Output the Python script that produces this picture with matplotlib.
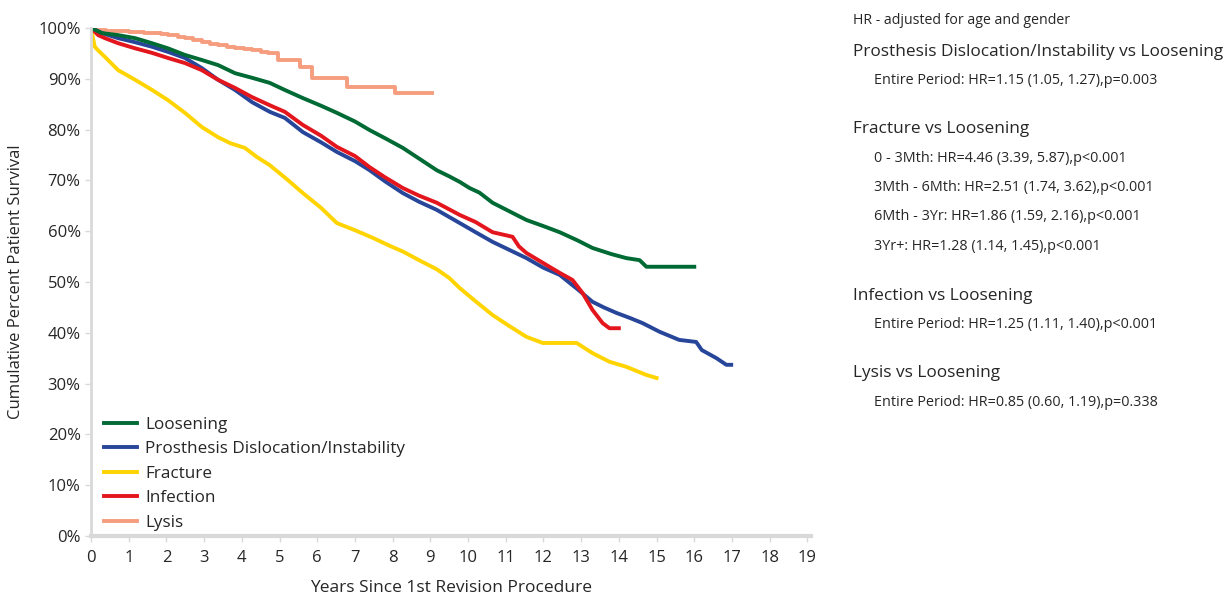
import matplotlib
matplotlib.use("Agg")
import matplotlib.pyplot as plt
from matplotlib.ticker import FuncFormatter

plt.rcParams['font.family'] = ['Open Sans', 'DejaVu Sans']

# survival curves (years, % surviving)
loosening_t = [0, 0.29, 0.72, 1.17, 1.62, 2.04, 2.49, 2.94, 3.37, 3.82, 4.27, 4.74, 5.14, 5.62, 6.1,
               6.52, 7.0, 7.39, 7.8, 8.27, 8.7, 9.17, 9.5, 9.78, 10.04, 10.3, 10.65, 11.1, 11.55, 12.0,
               12.43, 12.9, 13.3, 13.8, 14.2, 14.55, 14.73, 16.0]
loosening_s = [100, 99, 98.6, 98, 97, 96, 94.7, 93.7, 92.7, 91.1, 90.2, 89.2, 87.8, 86.2, 84.7,
               83.3, 81.6, 79.9, 78.3, 76.4, 74.3, 72, 70.8, 69.7, 68.5, 67.6, 65.6, 63.9, 62.2, 61.0,
               59.8, 58.2, 56.7, 55.5, 54.7, 54.3, 53, 53]

disloc_t = [0, 0.29, 0.72, 1.17, 1.62, 2.04, 2.49, 2.94, 3.37, 3.82, 4.27, 4.74, 5.14, 5.62, 6.1,
            6.52, 7.0, 7.39, 7.8, 8.27, 8.7, 9.17, 9.78, 10.2, 10.65, 11.1, 11.55, 12.0, 12.43, 12.9,
            13.3, 13.6, 13.94, 14.3, 14.63, 15.08, 15.6, 16.05, 16.2, 16.59, 16.85, 16.98]
disloc_s = [100, 99, 98, 97.2, 96.3, 95.3, 94.1, 92.1, 89.8, 87.8, 85.4, 83.5, 82.3, 79.5, 77.5,
            75.6, 73.8, 72, 69.8, 67.5, 65.8, 64.2, 61.6, 59.8, 57.9, 56.3, 54.7, 52.8, 51.4, 48.6,
            46.1, 45, 43.9, 42.9, 41.9, 40.2, 38.6, 38.2, 36.6, 35, 33.7, 33.7]

fracture_t = [0, 0.05, 0.1, 0.2, 0.37, 0.72, 1.17, 1.62, 2.04, 2.49, 2.94, 3.37, 3.7, 4.08, 4.4,
              4.74, 5.2, 5.62, 6.1, 6.52, 7.0, 7.47, 7.9, 8.27, 8.7, 9.17, 9.5, 9.78, 10.2, 10.65,
              11.1, 11.55, 11.98, 12.88, 13.3, 13.75, 14.2, 14.73, 15.0]
fracture_s = [100, 98, 96.3, 95.5, 94.3, 91.7, 89.8, 87.8, 85.8, 83.3, 80.5, 78.5, 77.3, 76.4, 74.6,
              73, 70.2, 67.5, 64.6, 61.6, 60.2, 58.7, 57.2, 56, 54.3, 52.5, 50.8, 48.8, 46.2, 43.5,
              41.3, 39.2, 38, 38, 36, 34.3, 33.3, 31.7, 31.1]

infection_t = [0, 0.19, 0.37, 0.72, 1.17, 1.62, 2.04, 2.49, 2.94, 3.37, 3.82, 4.27, 4.74, 5.14, 5.62,
               6.1, 6.52, 7.0, 7.39, 7.8, 8.27, 8.7, 9.17, 9.78, 10.2, 10.65, 11.18, 11.35, 11.55,
               12.0, 12.43, 12.77, 13.04, 13.3, 13.57, 13.75, 14.0]
infection_s = [100, 98.6, 98, 97, 96, 95.1, 94.1, 93.1, 91.7, 89.8, 88.2, 86.4, 84.8, 83.5, 80.9,
               78.8, 76.6, 74.8, 72.6, 70.6, 68.5, 67.0, 65.6, 63.2, 61.8, 59.8, 58.9, 57.0, 55.7,
               53.7, 51.8, 50.4, 47.8, 44.5, 41.9, 40.9, 40.9]

# lysis has few events, so it is drawn as a true step curve
lysis_t = [0, 0.1, 0.4, 0.7, 1.0, 1.17, 1.4, 1.62, 1.85, 2.04, 2.3, 2.49, 2.7, 2.94, 3.15, 3.37,
           3.6, 3.82, 4.05, 4.27, 4.5, 4.69, 4.96, 5.54, 5.86, 6.78, 8.05, 9.04]
lysis_s = [100, 99.7, 99.5, 99.4, 99.3, 99.2, 99.1, 99, 98.8, 98.6, 98.3, 98, 97.6, 97.2, 96.9, 96.7,
           96.3, 96, 95.9, 95.7, 95.3, 95, 93.7, 92.3, 90.2, 88.4, 87.2, 87.2]

labels = ['Loosening', 'Prosthesis Dislocation/Instability', 'Fracture', 'Infection', 'Lysis']
colors = ['#006a35', '#27469a', '#ffd400', '#e3151d', '#f59d7e']

fig = plt.figure(figsize=(12.32, 5.96), dpi=100)
ax = fig.add_axes([0.0739, 0.1007, 0.5845, 0.8523])

curves = [(loosening_t, loosening_s), (disloc_t, disloc_s), (fracture_t, fracture_s),
          (infection_t, infection_s), (lysis_t, lysis_s)]
# draw in reverse so loosening sits on top like the original
order = [4, 2, 1, 3, 0]
lines = {}
for i in order:
    t, s = curves[i]
    if i == 4:
        ln, = ax.step(t, s, where='post', color=colors[i], lw=2.8, label=labels[i])
    else:
        ln, = ax.plot(t, s, color=colors[i], lw=2.8, label=labels[i])
    lines[i] = ln

ax.set_xlim(0, 19.1)
ax.set_ylim(0, 100)
ax.set_xticks(range(0, 20))
ax.set_yticks(range(0, 101, 10))
ax.yaxis.set_major_formatter(FuncFormatter(lambda v, p: f"{int(v)}%"))
ax.tick_params(axis='both', labelsize=12, colors='#d9d9d9', labelcolor='#262626', length=4, width=1)
ax.tick_params(axis='x', pad=6)

for side in ['top', 'right']:
    ax.spines[side].set_visible(False)
ax.spines['left'].set_color('#d9d9d9')
ax.spines['left'].set_linewidth(2)
ax.spines['bottom'].set_color('#d9d9d9')
ax.spines['bottom'].set_linewidth(3)

ax.set_xlabel('Years Since 1st Revision Procedure', fontsize=12.5, color='#262626', labelpad=10)
ax.set_ylabel('Cumulative Percent Patient Survival', fontsize=12, color='#262626', labelpad=10)

leg = ax.legend([lines[i] for i in range(5)], labels, loc='lower left',
                bbox_to_anchor=(-0.004, -0.02), frameon=False, fontsize=12.3,
                handlelength=1.95, handletextpad=0.5, labelspacing=0.5)
for txt in leg.get_texts():
    txt.set_color('#262626')

# hazard ratio panel on the right
tc = '#262626'
fig.text(0.6925, 1 - 20 / 596, 'HR - adjusted for age and gender', fontsize=10.2, color=tc, va='center')
heads = [(52, 'Prosthesis Dislocation/Instability vs Loosening'),
         (129, 'Fracture vs Loosening'),
         (296, 'Infection vs Loosening'),
         (373, 'Lysis vs Loosening')]
rows = [(81, 'Entire Period: HR=1.15 (1.05, 1.27),p=0.003'),
        (158, '0 - 3Mth: HR=4.46 (3.39, 5.87),p<0.001'),
        (187, '3Mth - 6Mth: HR=2.51 (1.74, 3.62),p<0.001'),
        (217, '6Mth - 3Yr: HR=1.86 (1.59, 2.16),p<0.001'),
        (247, '3Yr+: HR=1.28 (1.14, 1.45),p<0.001'),
        (325, 'Entire Period: HR=1.25 (1.11, 1.40),p<0.001'),
        (403, 'Entire Period: HR=0.85 (0.60, 1.19),p=0.338')]
for y, s in heads:
    fig.text(0.6925, 1 - y / 596, s, fontsize=12.4, color=tc, va='center')
for y, s in rows:
    fig.text(0.7095, 1 - y / 596, s, fontsize=10.4, color=tc, va='center')

fig.savefig('out.png', dpi=100)
